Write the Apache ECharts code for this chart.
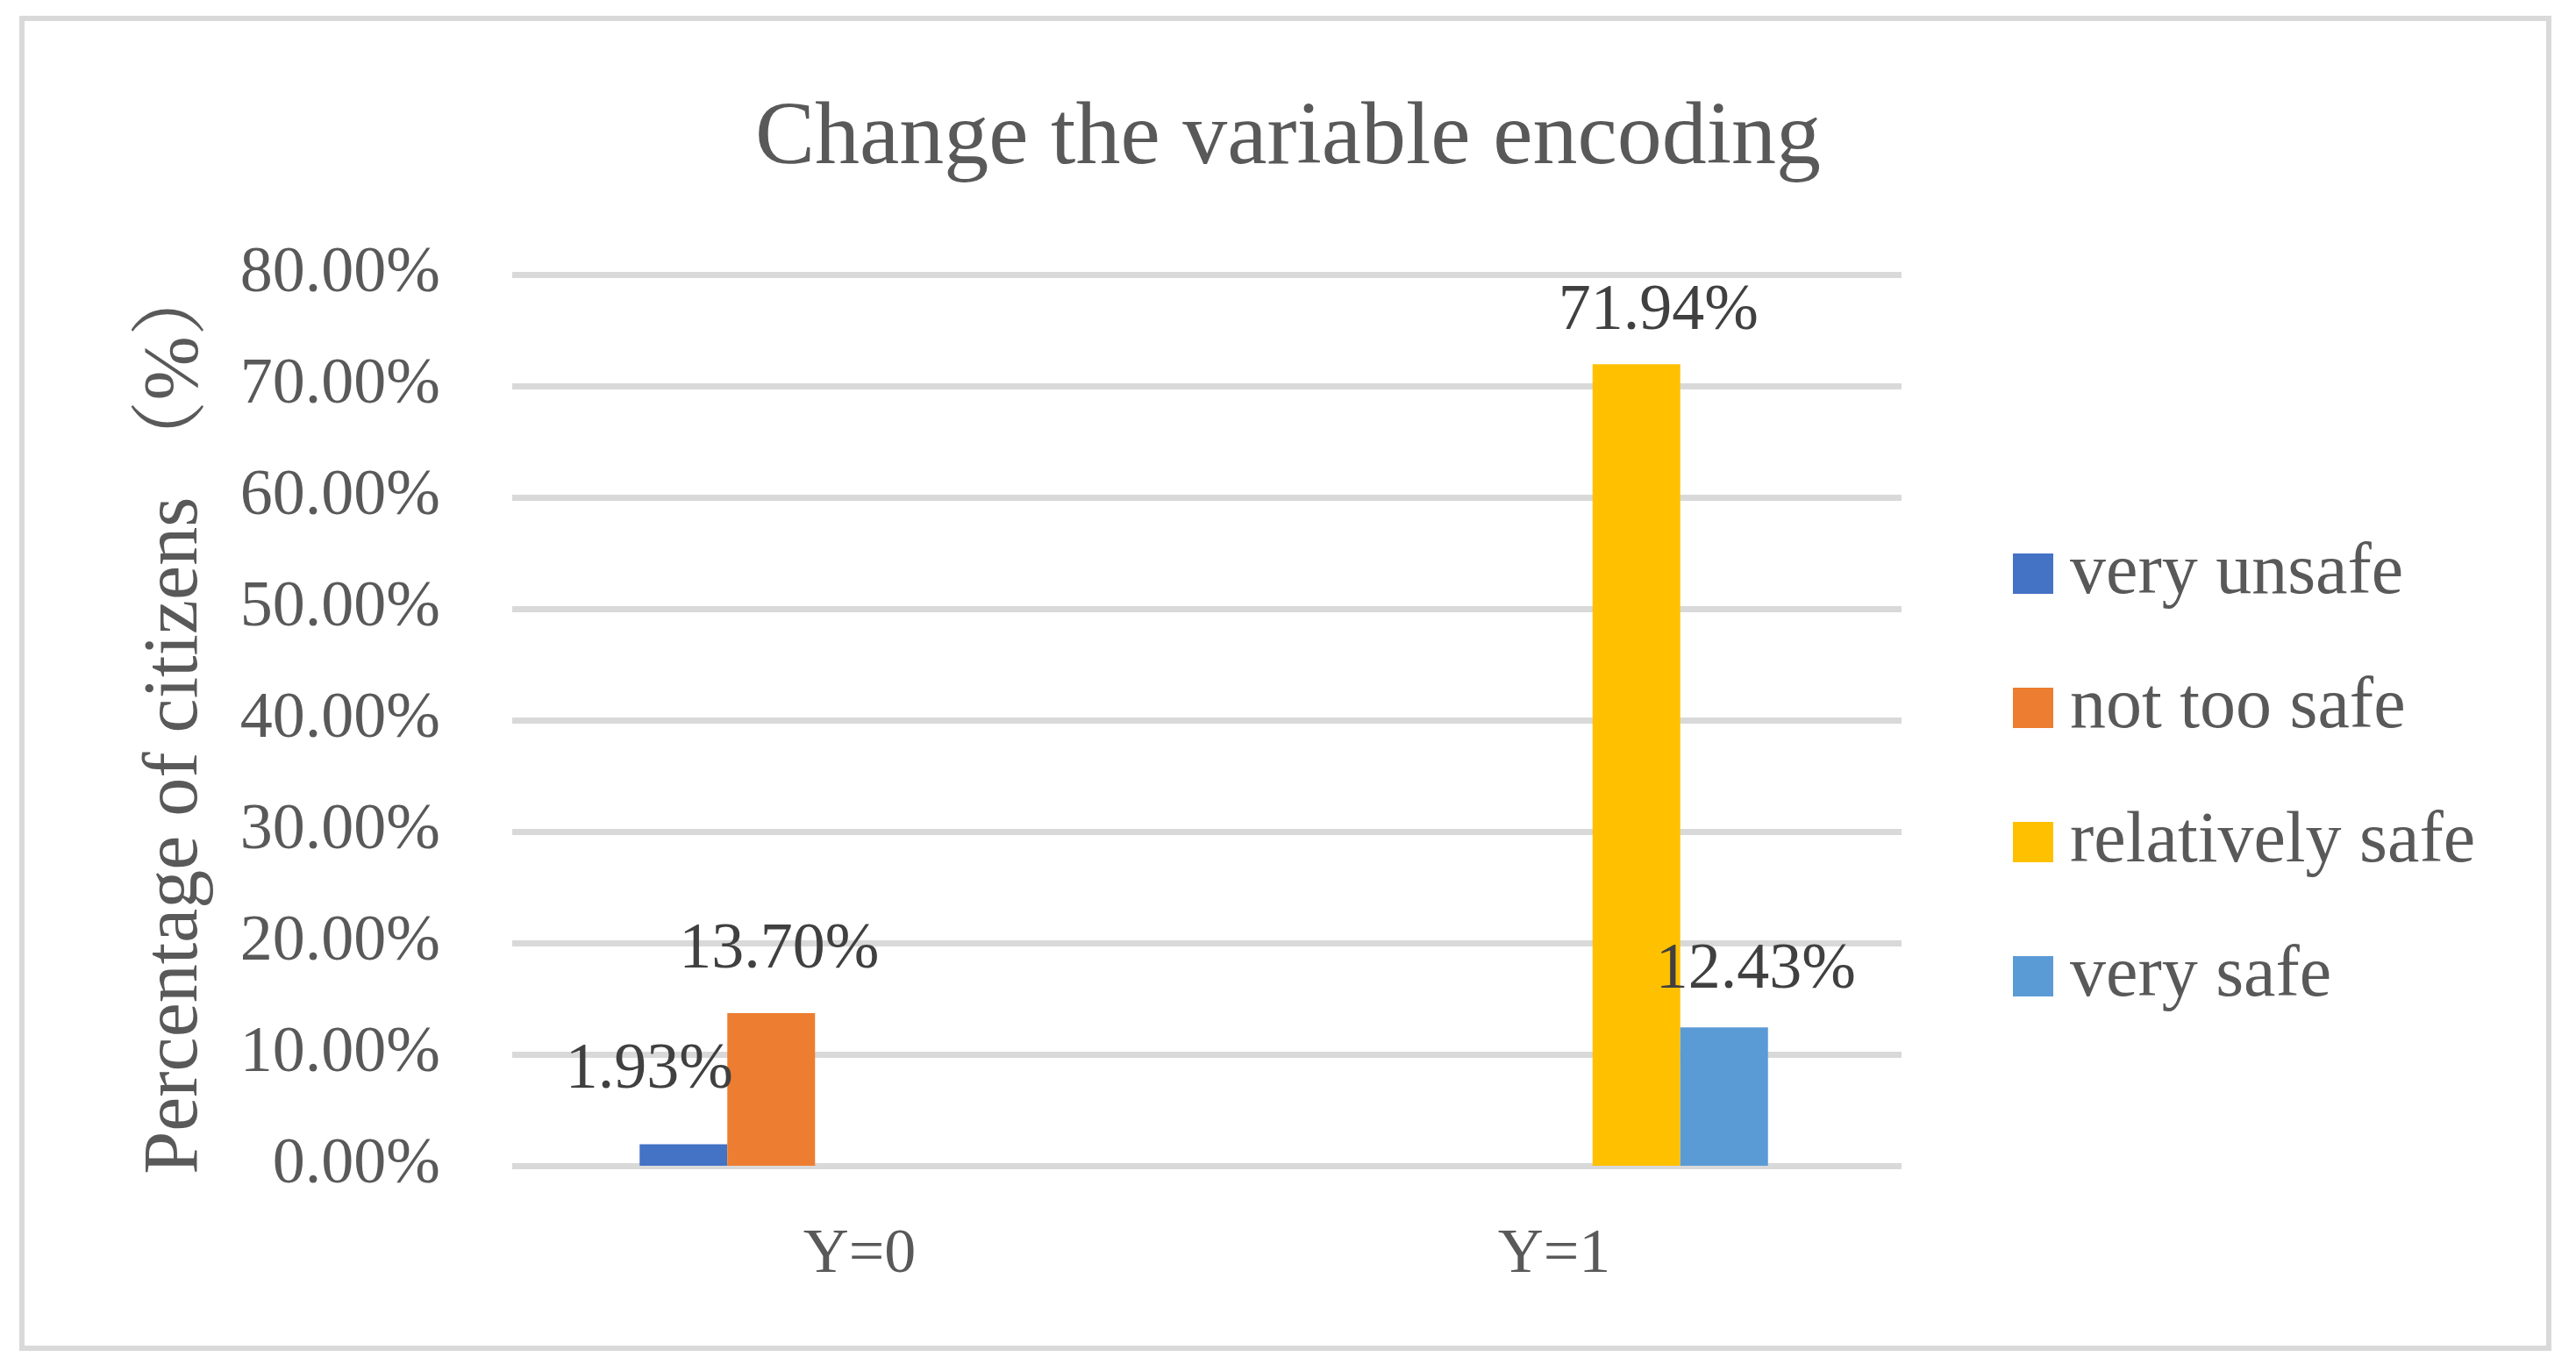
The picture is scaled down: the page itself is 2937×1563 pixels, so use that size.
<!DOCTYPE html>
<html>
<head>
<meta charset="utf-8">
<script src="https://cdn.jsdelivr.net/npm/echarts@6/dist/echarts.min.js"></script>
<style>
html,body{margin:0;padding:0;background:#fff;}
#c{width:2937px;height:1563px;}
</style>
</head>
<body>
<div id="c"></div>
<script>
// ---- data ----
var categories = ['Y=0', 'Y=1'];
var seriesNames = ['very unsafe', 'not too safe', 'relatively safe', 'very safe'];
var veryUnsafe = [1.93, 0];
var notTooSafe = [13.70, 0];
var relativelySafe = [0, 71.94];
var verySafe = [0, 12.43];
var yTicks = [0, 10, 20, 30, 40, 50, 60, 70, 80];
var titleText = 'Change the variable encoding';
var yName = 'Percentage of citizens （%）';

// ---- styles ----
var FONT = '"Liberation Serif", "Noto Serif CJK SC", "Noto Sans CJK SC", serif';
var colors = ['#4472C4', '#ED7D31', '#FFC000', '#5B9BD5'];
var labelOffsets = [[-39, -47], [9, -34], [25, -23], [36, -28]];
var allValues = [veryUnsafe, notTooSafe, relativelySafe, verySafe];

var series = seriesNames.map(function (name, i) {
  return {
    name: name,
    type: 'bar',
    xAxisIndex: 1,
    yAxisIndex: 1,
    data: allValues[i],
    barWidth: 100,
    barGap: '0%',
    itemStyle: { color: colors[i] },
    label: {
      show: true,
      position: 'top',
      distance: 0,
      offset: labelOffsets[i],
      fontFamily: FONT,
      fontSize: 74,
      color: '#404040',
      formatter: function (p) { return p.value ? p.value.toFixed(2) + '%' : ''; }
    }
  };
});

var chart = echarts.init(document.getElementById('c'), null, { renderer: 'canvas' });
chart.setOption({
  animation: false,
  backgroundColor: '#ffffff',
  color: colors,
  title: {
    text: titleText,
    left: 'center',
    top: 103,
    textStyle: { fontFamily: FONT, fontSize: 102, fontWeight: 'normal', color: '#595959' }
  },
  legend: {
    orient: 'vertical',
    left: 2295,
    top: 613,
    padding: 0,
    itemWidth: 46,
    itemHeight: 46,
    itemGap: 71,
    icon: 'rect',
    data: seriesNames,
    textStyle: { fontFamily: FONT, fontSize: 82, lineHeight: 80, color: '#595959', padding: [0, 0, 0, 14] }
  },
  grid: [
    { left: 584, right: 769, top: 313, bottom: 234, containLabel: false },
    { left: 486, right: 678, top: 313, bottom: 234, containLabel: false }
  ],
  xAxis: [
    {
      type: 'category', gridIndex: 0, data: categories,
      axisLine: { show: false }, axisTick: { show: false },
      axisLabel: { fontFamily: FONT, fontSize: 72, color: '#595959', margin: 66 }
    },
    { type: 'category', gridIndex: 1, data: categories, show: false }
  ],
  yAxis: [
    {
      type: 'value', gridIndex: 0, min: yTicks[0], max: yTicks[yTicks.length - 1], interval: 10,
      name: yName, nameLocation: 'middle', nameGap: 339, nameRotate: 90,
      nameTextStyle: { fontFamily: FONT, fontSize: 88, color: '#595959', padding: [0, 0, 0, 8] },
      axisLine: { show: false }, axisTick: { show: false },
      splitLine: { show: true, lineStyle: { color: '#D9D9D9', width: 7 } },
      axisLabel: {
        fontFamily: FONT, fontSize: 74, color: '#595959', margin: 82,
        formatter: function (v) { return v.toFixed(2) + '%'; }
      }
    },
    { type: 'value', gridIndex: 1, min: yTicks[0], max: yTicks[yTicks.length - 1], show: false }
  ],
  graphic: [{
    type: 'rect',
    silent: true,
    shape: { x: 25, y: 21, width: 2881, height: 1516 },
    style: { fill: 'none', stroke: '#D9D9D9', lineWidth: 6 }
  }],
  series: series
});
</script>
</body>
</html>
